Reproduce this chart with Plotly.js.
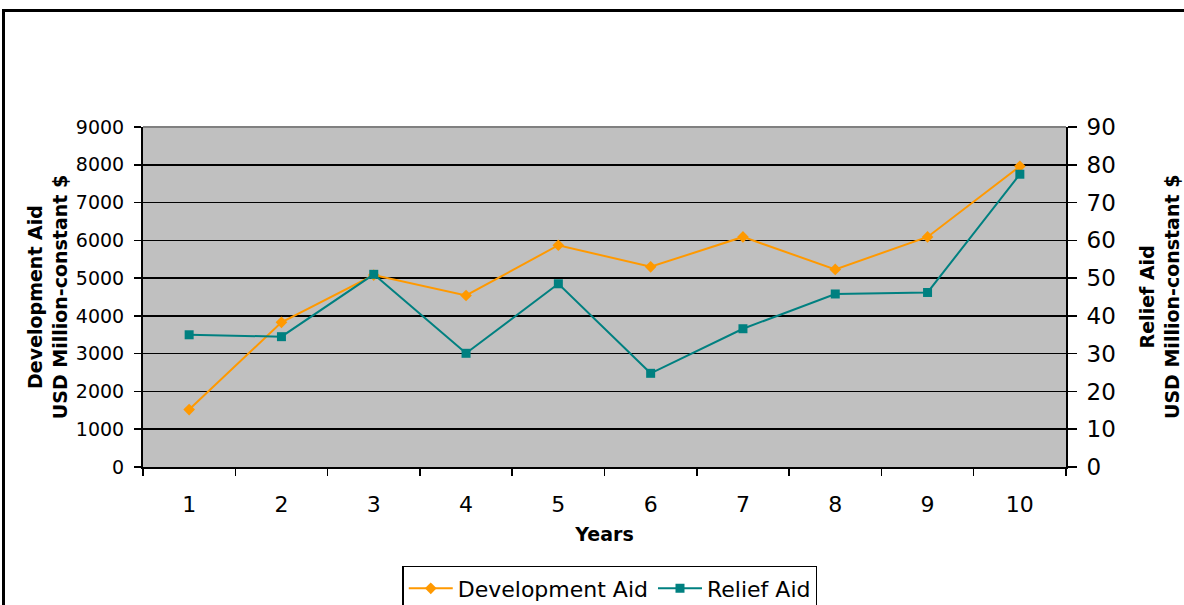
<!DOCTYPE html>
<html>
<head>
<meta charset="utf-8">
<script src="https://cdn.plot.ly/plotly-3.0.1.min.js"></script>
<style>
  html, body { margin: 0; padding: 0; width: 1184px; height: 605px; overflow: hidden; background: #fff; }
  #frame { position: absolute; left: 2px; top: 9px; width: 1300px; height: 800px; border: 3px solid #000; box-sizing: border-box; }
  #chart { position: absolute; left: 0; top: 0; width: 1184px; height: 605px; }
</style>
</head>
<body>
<div id="frame"></div>
<div id="chart"></div>
<script>
const years = ["1", "2", "3", "4", "5", "6", "7", "8", "9", "10"];
const developmentAid = [1520, 3830, 5080, 4540, 5870, 5300, 6090, 5230, 6090, 7960];
const reliefAid = [35.0, 34.5, 51.0, 30.1, 48.5, 24.8, 36.6, 45.8, 46.2, 77.5];
const leftTicks = [0, 1000, 2000, 3000, 4000, 5000, 6000, 7000, 8000, 9000];
const rightTicks = [0, 10, 20, 30, 40, 50, 60, 70, 80, 90];

const FONT = "DejaVu Sans, Verdana, sans-serif";

const traces = [
  {
    x: years, y: developmentAid, name: "Development Aid", type: "scatter", mode: "lines+markers",
    line: { color: "#FF9900", width: 2 },
    marker: { symbol: "diamond", size: 9, color: "#FF9900" },
    yaxis: "y"
  },
  {
    x: years, y: reliefAid, name: "Relief Aid", type: "scatter", mode: "lines+markers",
    line: { color: "#008080", width: 2 },
    marker: { symbol: "square", size: 9, color: "#008080" },
    yaxis: "y2"
  }
];

const layout = {
  width: 1184, height: 605,
  margin: { l: 143, r: 118, t: 127, b: 138, pad: 0 },
  paper_bgcolor: "rgba(0,0,0,0)",
  plot_bgcolor: "#C0C0C0",
  font: { family: FONT, color: "#000" },
  showlegend: true,
  xaxis: {
    type: "category",
    range: [-0.5, 9.5],
    tickson: "boundaries",
    ticks: "outside", ticklen: 7, tickwidth: 1.5, tickcolor: "#000",
    showline: true, linecolor: "#000", linewidth: 2,
    showgrid: false, zeroline: false,
    tickfont: { size: 22, family: FONT },
    ticklabelstandoff: 17,
    title: { text: "<b>Years</b>", font: { size: 19, family: FONT }, standoff: 11 },
    automargin: false,
    fixedrange: true
  },
  yaxis: {
    range: [0, 9000],
    tickvals: leftTicks,
    ticks: "outside", ticklen: 7, tickwidth: 1.5, tickcolor: "#000",
    showline: true, linecolor: "#000", linewidth: 2,
    showgrid: true, gridcolor: "#000", gridwidth: 1.5,
    zeroline: false,
    tickfont: { size: 19, family: FONT },
    ticklabelstandoff: 6,
    title: { text: "<b>Development Aid<br>USD Million-constant $</b>", font: { size: 19, family: FONT }, standoff: 3 },
    automargin: false,
    fixedrange: true
  },
  yaxis2: {
    overlaying: "y", side: "right",
    range: [0, 90],
    tickvals: rightTicks,
    ticks: "outside", ticklen: 9, tickwidth: 1.5, tickcolor: "#000",
    showline: true, linecolor: "#000", linewidth: 2,
    showgrid: false, zeroline: false,
    tickfont: { size: 23, family: FONT },
    ticklabelstandoff: 5,
    automargin: false,
    fixedrange: true
  },
  annotations: [
    {
      text: "<b>Relief Aid<br>USD Million-constant $</b>",
      xref: "paper", yref: "paper", x: 1.1008, y: 0.5,
      xanchor: "center", yanchor: "middle",
      textangle: -90, showarrow: false,
      font: { size: 19, family: FONT, color: "#000" }
    }
  ],
  shapes: [
    { type: "line", xref: "paper", yref: "paper", x0: 0, x1: 1, y0: 1, y1: 1, line: { color: "#808080", width: 2 } }
  ],
  legend: {
    orientation: "h",
    xref: "container", yref: "container",
    x: 0.515, xanchor: "center",
    y: 0.0645, yanchor: "top",
    itemwidth: 44,
    bgcolor: "#fff", bordercolor: "#000", borderwidth: 1.5,
    font: { size: 22, family: FONT, color: "#000" }
  }
};

Plotly.newPlot("chart", traces, layout, { displayModeBar: false, staticPlot: true });
</script>
</body>
</html>
